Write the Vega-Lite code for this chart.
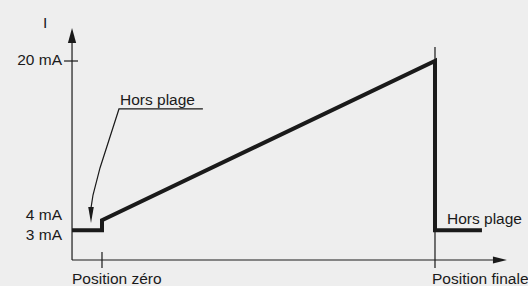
{
  "$schema": "https://vega.github.io/schema/vega-lite/v6.json",
  "width": 528,
  "height": 286,
  "padding": 0,
  "autosize": {"type": "none"},
  "background": "#eeeeee",
  "config": {"view": {"stroke": null}},
  "datasets": {
    "thin": [
      {"seg": "yaxis", "o": 1, "x": -0.09, "y": 0},
      {"seg": "yaxis", "o": 2, "x": -0.09, "y": 21.8},
      {"seg": "xaxis", "o": 1, "x": -0.09, "y": 0},
      {"seg": "xaxis", "o": 2, "x": 1.174, "y": 0},
      {"seg": "tick20", "o": 1, "x": -0.114, "y": 20},
      {"seg": "tick20", "o": 2, "x": -0.072, "y": 20},
      {"seg": "tickzero", "o": 1, "x": 0, "y": 0.8},
      {"seg": "tickzero", "o": 2, "x": 0, "y": -0.8},
      {"seg": "finale", "o": 1, "x": 1, "y": 21.4},
      {"seg": "finale", "o": 2, "x": 1, "y": -0.8},
      {"seg": "leader", "o": 1, "x": 0.303, "y": 15.18},
      {"seg": "leader", "o": 2, "x": 0.051, "y": 15.18},
      {"seg": "leader", "o": 3, "x": -0.006, "y": 9.25},
      {"seg": "leader", "o": 4, "x": -0.027, "y": 6.53},
      {"seg": "leader", "o": 5, "x": -0.033, "y": 5.23}
    ],
    "signal": [
      {"o": 1, "x": -0.09, "y": 3},
      {"o": 2, "x": 0, "y": 3},
      {"o": 3, "x": 0, "y": 4},
      {"o": 4, "x": 1, "y": 20},
      {"o": 5, "x": 1, "y": 3},
      {"o": 6, "x": 1.141, "y": 3}
    ],
    "arrows": [
      {"dir": "up", "x": -0.09, "y": 22.56},
      {"dir": "right", "x": 1.195, "y": 0},
      {"dir": "down", "x": -0.033, "y": 4.52}
    ],
    "ylabels": [
      {"label": "20 mA", "x": -0.09, "y": 20.1},
      {"label": "4 mA", "x": -0.09, "y": 4.52},
      {"label": "3 mA", "x": -0.09, "y": 2.51}
    ],
    "labels": [
      {"label": "I", "x": -0.177, "y": 23.32},
      {"label": "Hors plage", "x": 0.054, "y": 15.58},
      {"label": "Hors plage", "x": 1.036, "y": 3.62},
      {"label": "Position zéro", "x": -0.09, "y": -2.41},
      {"label": "Position finale", "x": 0.991, "y": -2.41}
    ]
  },
  "encoding": {
    "x": {"field": "x", "type": "quantitative", "axis": null, "scale": {"domain": [-0.3063, 1.2793], "nice": false, "zero": false}},
    "y": {"field": "y", "type": "quantitative", "axis": null, "scale": {"domain": [-2.613, 26.131], "nice": false, "zero": false}}
  },
  "layer": [
    {
      "data": {"name": "thin"},
      "mark": {"type": "line", "stroke": "#1a1a1a", "strokeWidth": 1.2},
      "encoding": {
        "detail": {"field": "seg"},
        "order": {"field": "o", "type": "quantitative"}
      }
    },
    {
      "data": {"name": "signal"},
      "mark": {"type": "line", "stroke": "#1a1a1a", "strokeWidth": 4, "strokeJoin": "miter", "strokeCap": "butt"},
      "encoding": {
        "order": {"field": "o", "type": "quantitative"}
      }
    },
    {
      "data": {"name": "arrows"},
      "mark": {"type": "point", "filled": true, "fill": "#1a1a1a", "strokeWidth": 0, "size": 225, "opacity": 1},
      "encoding": {
        "shape": {"field": "dir", "type": "nominal", "legend": null, "scale": {"domain": ["up", "right", "down"], "range": ["M0,-1L-0.55,1L0.55,1Z", "M0.93,0L-0.93,-0.47L-0.93,0.47Z", "M0,1.07L-0.37,-1.07L0.37,-1.07Z"]}}
      }
    },
    {
      "data": {"name": "ylabels"},
      "mark": {"type": "text", "align": "right", "baseline": "middle", "dx": -10, "font": "Liberation Sans", "fontSize": 15.5, "fill": "#1a1a1a"},
      "encoding": {"text": {"field": "label"}}
    },
    {
      "data": {"name": "labels"},
      "mark": {"type": "text", "align": "left", "baseline": "alphabetic", "font": "Liberation Sans", "fontSize": 15.5, "fill": "#1a1a1a"},
      "encoding": {"text": {"field": "label"}}
    }
  ]
}
